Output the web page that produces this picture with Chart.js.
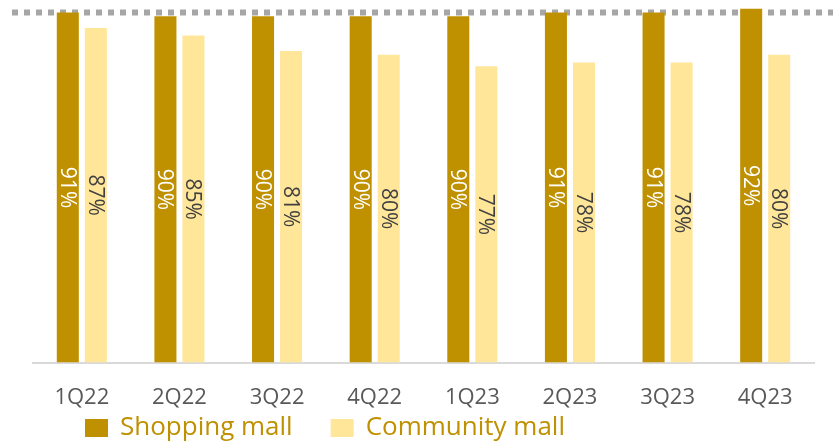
<!DOCTYPE html>
<html>
<head>
<meta charset="utf-8">
<script src="https://cdn.jsdelivr.net/npm/chart.js@4"></script>
<style>
  html, body { margin: 0; padding: 0; background: #fff; }
  #wrap { width: 833px; height: 443px; }
</style>
</head>
<body>
<div id="wrap"><canvas id="occupancy-chart" width="833" height="443"></canvas></div>
<script>
const categories = ['1Q22', '2Q22', '3Q22', '4Q22', '1Q23', '2Q23', '3Q23', '4Q23']
const shoppingMall = [91, 90, 90, 90, 90, 91, 91, 92]
const communityMall = [87, 85, 81, 80, 77, 78, 78, 80]
const refLevel = 91

const FONT = "'Open Sans', sans-serif"

// dotted reference line behind the bars
const refLine = {
    id: 'refLine',
    beforeDatasetsDraw(chart) {
        const ctx = chart.ctx
        const y = chart.scales.y.getPixelForValue(refLevel)
        ctx.save()
        ctx.strokeStyle = '#A6A6A6'
        ctx.lineWidth = 6
        ctx.setLineDash([6, 6])
        ctx.beginPath()
        ctx.moveTo(12, y)
        ctx.lineTo(chart.width, y)
        ctx.stroke()
        ctx.restore()
    }
}

// rotated value labels in the middle of each bar
const barLabels = {
    id: 'barLabels',
    afterDatasetsDraw(chart) {
        const ctx = chart.ctx
        ctx.save()
        ctx.font = '21px ' + FONT
        ctx.textAlign = 'center'
        ctx.textBaseline = 'middle'
        chart.data.datasets.forEach((ds, i) => {
            const meta = chart.getDatasetMeta(i)
            ctx.fillStyle = ds.labelColor
            meta.data.forEach((bar, j) => {
                ctx.save()
                ctx.translate(bar.x, (bar.y + bar.base) / 2)
                ctx.rotate(Math.PI / 2)
                ctx.fillText(ds.data[j] + '%', 0, 1)
                ctx.restore()
            })
        })
        ctx.restore()
    }
}

// legend drawn by hand, the original sits left of centre under the axis
const bottomLegend = {
    id: 'bottomLegend',
    afterDraw(chart) {
        const ctx = chart.ctx
        let x = 85
        const y = 428
        ctx.save()
        ctx.font = '26px ' + FONT
        ctx.textBaseline = 'middle'
        ctx.textAlign = 'left'
        chart.data.datasets.forEach(ds => {
            ctx.fillStyle = ds.backgroundColor
            ctx.fillRect(x, y - 9, 23, 18)
            x += 23 + 12
            ctx.fillStyle = '#BF9000'
            ctx.fillText(ds.label, x, y)
            x += ctx.measureText(ds.label).width + 38
        })
        ctx.restore()
    }
}

const data = {
    labels: categories,
    datasets: [
        {
            label: 'Shopping mall',
            data: shoppingMall,
            backgroundColor: '#BF9000',
            labelColor: '#FFFFFF',
            categoryPercentage: 0.574,
            barPercentage: 0.786
        },
        {
            label: 'Community mall',
            data: communityMall,
            backgroundColor: '#FFE699',
            labelColor: '#404040',
            categoryPercentage: 0.574,
            barPercentage: 0.786
        }
    ]
}

const config = {
    type: 'bar',
    data: data,
    options: {
        responsive: false,
        animation: false,
        layout: {
            padding: { left: 33, right: 19, top: 0, bottom: 10 }
        },
        plugins: {
            legend: { display: false },
            tooltip: { enabled: false }
        },
        scales: {
            x: {
                grid: { display: false, drawTicks: false },
                border: { display: true, color: '#D9D9D9', width: 2 },
                ticks: {
                    color: '#595959',
                    padding: 22,
                    font: { family: FONT, size: 22 }
                }
            },
            y: {
                display: false,
                min: 0,
                max: 94.25
            }
        }
    },
    plugins: [refLine, barLabels, bottomLegend]
}

new Chart(document.getElementById('occupancy-chart'), config)
</script>
</body>
</html>
